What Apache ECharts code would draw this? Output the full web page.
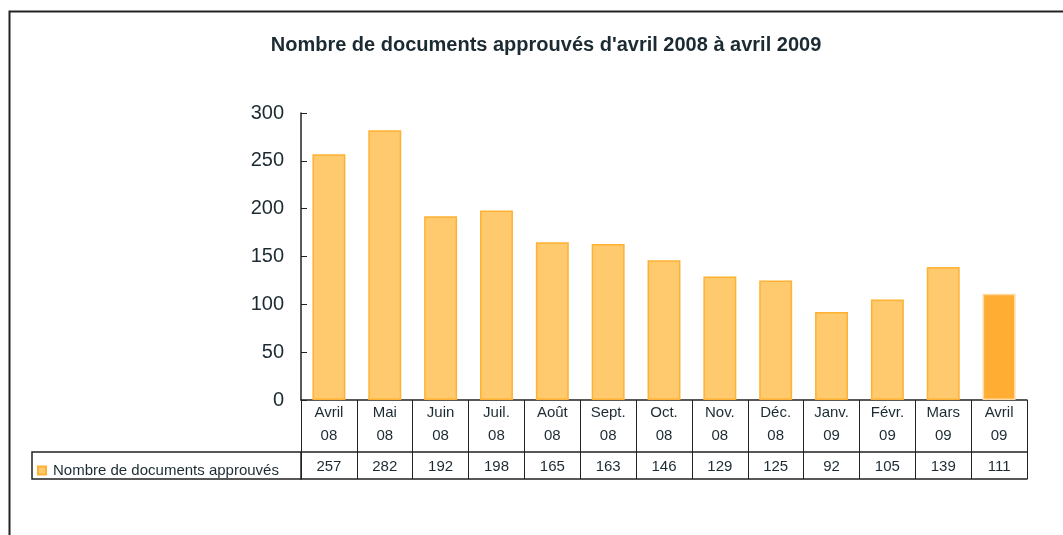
<!DOCTYPE html>
<html>
<head>
<meta charset="utf-8">
<script src="https://cdn.jsdelivr.net/npm/echarts@6/dist/echarts.min.js"></script>
<style>
  html, body { margin: 0; padding: 0; background: #fff; }
  #chart { width: 1063px; height: 535px; }
</style>
</head>
<body>
<div id="chart"></div>
<script>
// données
var months = ['Avril\n08', 'Mai\n08', 'Juin\n08', 'Juil.\n08', 'Août\n08', 'Sept.\n08', 'Oct.\n08',
    'Nov.\n08', 'Déc.\n08', 'Janv.\n09', 'Févr.\n09', 'Mars\n09', 'Avril\n09'];
var docs = [257, 282, 192, 198, 165, 163, 146, 129, 125, 92, 105, 139, 111];
var yTicks = [0, 50, 100, 150, 200, 250, 300];
var seriesName = 'Nombre de documents approuvés';

var txt = '#1c2b33';
var font = 'Liberation Sans, Arial, sans-serif';

var myChart = echarts.init(document.getElementById('chart'));

/* dernière barre plus foncée */
var barData = docs.map(function (v, i) {
    if (i == docs.length - 1) {
        return { value: v, itemStyle: { color: '#FFAD33', borderColor: '#FFD9A3' } };
    }
    return v;
});

var option = {
    animation: false,
    textStyle: { fontFamily: font, color: txt },
    title: {
        text: "Nombre de documents approuvés d'avril 2008 à avril 2009",
        left: 541,
        textAlign: 'center',
        top: 30,
        textStyle: { fontSize: 20, fontWeight: 'bold', color: txt, fontFamily: font }
    },
    legend: {
        left: 37,
        top: 463,
        padding: 0,
        icon: 'rect',
        itemWidth: 8,
        itemHeight: 8,
        textStyle: { fontSize: 15, color: txt, padding: [0, 0, 0, 2] },
        data: [seriesName]
    },
    grid: { left: 301, right: 36, top: 113, bottom: 135 },
    xAxis: [{
        type: 'category',
        data: months,
        axisLine: { lineStyle: { color: '#222', width: 1.5 } },
        axisTick: { show: true, length: 79, interval: 0, lineStyle: { color: '#222' } },
        axisLabel: { interval: 0, fontSize: 15, lineHeight: 23, margin: 1, color: txt }
    }, {
        type: 'category',
        data: docs.map(String),
        position: 'bottom',
        offset: 52,
        axisLine: { lineStyle: { color: '#222', width: 1.5 } },
        axisTick: { show: false },
        axisLabel: { interval: 0, fontSize: 15, margin: 7, color: txt }
    }, {
        type: 'category',
        data: months,
        position: 'bottom',
        offset: 79,
        axisLine: { lineStyle: { color: '#222', width: 1.5 } },
        axisTick: { show: false },
        axisLabel: { show: false }
    }],
    yAxis: {
        type: 'value',
        min: yTicks[0],
        max: yTicks[yTicks.length - 1],
        interval: 50,
        axisLine: { show: true, lineStyle: { color: '#222', width: 1.5 } },
        axisTick: { show: true, inside: true, length: 6, lineStyle: { color: '#222' } },
        splitLine: { show: false },
        axisLabel: { fontSize: 20, margin: 17, color: txt }
    },
    series: [{
        name: seriesName,
        type: 'bar',
        barWidth: '59%',
        data: barData,
        itemStyle: { color: '#FFC96E', borderColor: '#FFB133', borderWidth: 1.5 }
    }],
    graphic: [{
        type: 'rect',
        left: 7, top: 9,
        shape: { width: 1200, height: 700 },
        style: { fill: 'none', stroke: '#222', lineWidth: 2 },
        silent: true
    }, {
        type: 'rect',
        shape: { x: 32, y: 452, width: 269, height: 27 },
        style: { fill: 'none', stroke: '#222', lineWidth: 1.5 },
        silent: true
    }]
};
myChart.setOption(option);
</script>
</body>
</html>
